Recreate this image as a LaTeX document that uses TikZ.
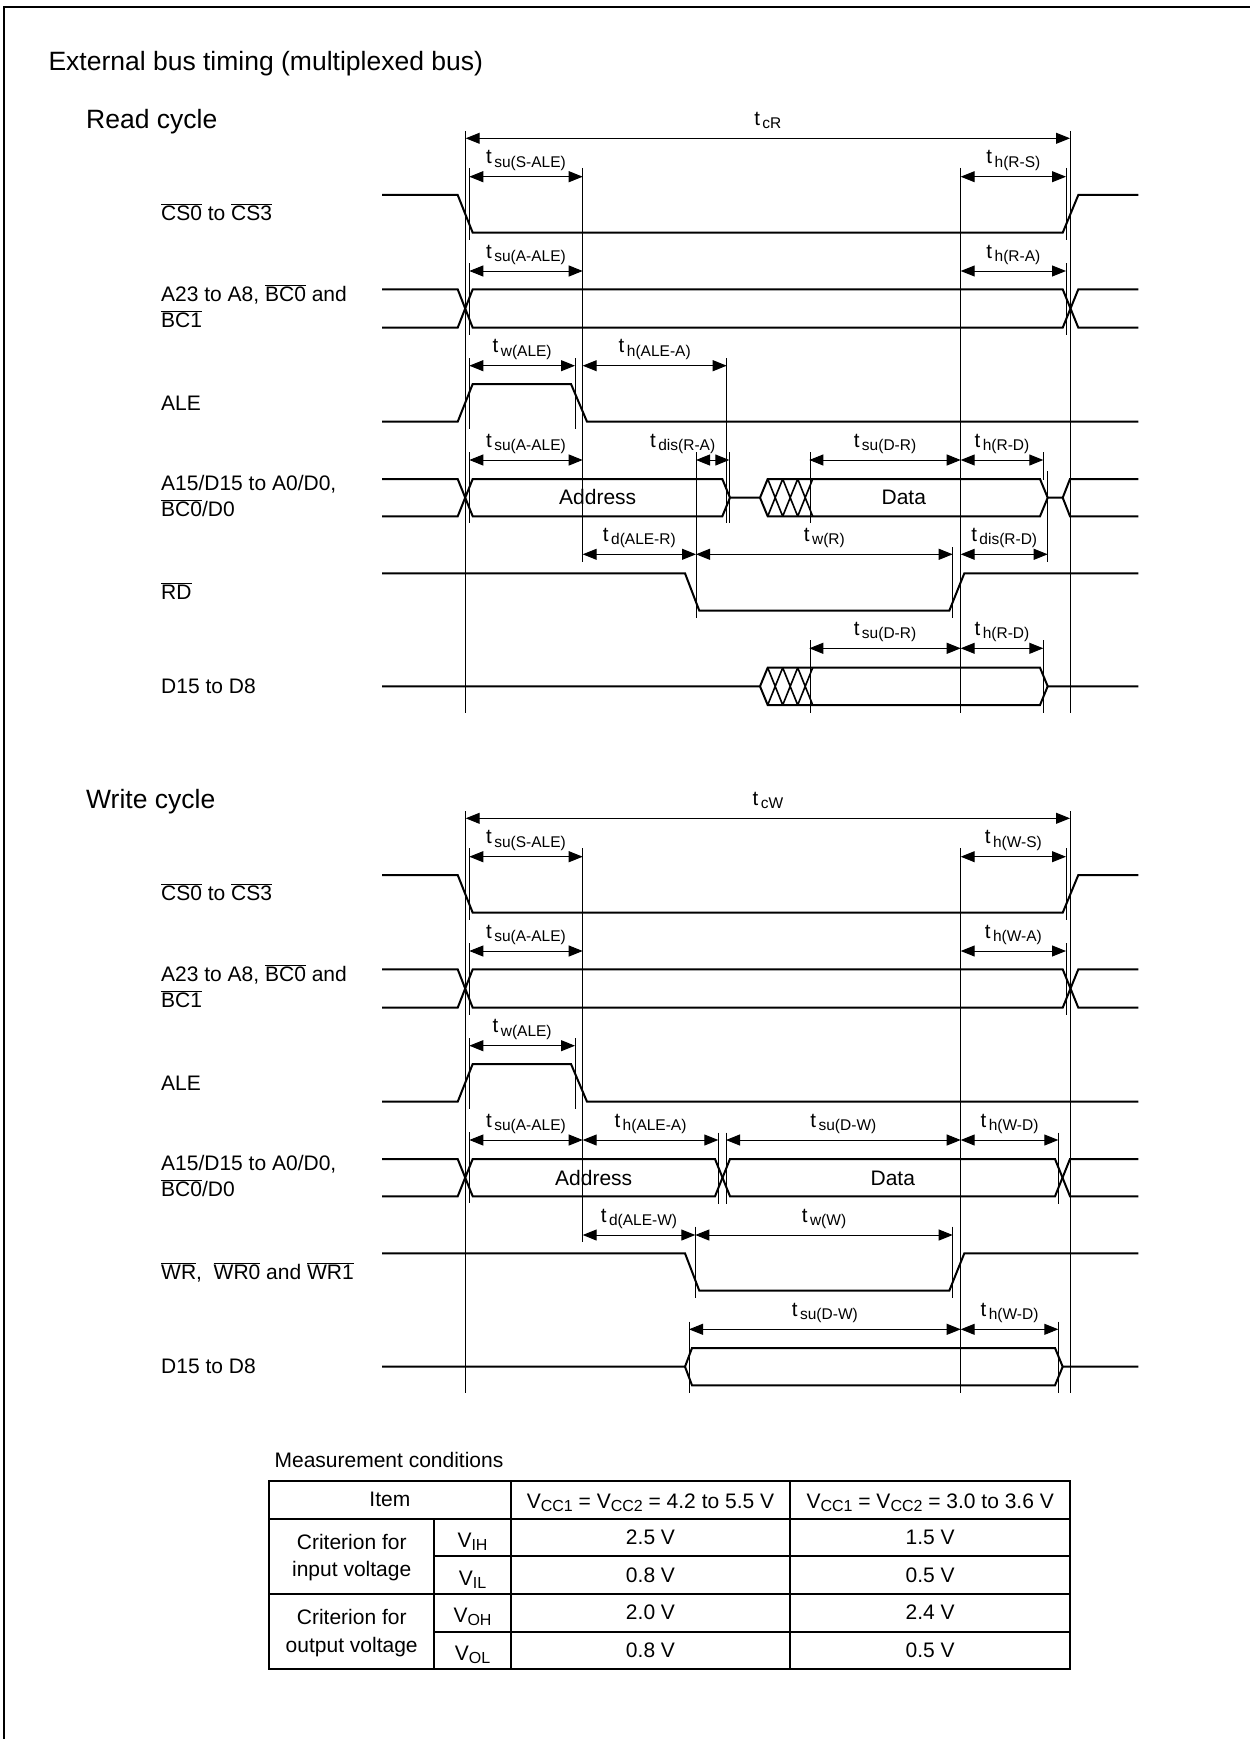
\documentclass[tikz,border=0pt]{standalone}
\usepackage{fontspec}
\setmainfont{Liberation Sans}
\usetikzlibrary{arrows.meta}

\newcommand{\ovl}[1]{$\overline{\mbox{#1}}$}
\newcommand{\tlab}[1]{t\hspace{2.5pt}\raisebox{-3.5pt}{\fontsize{15.5}{16}\selectfont #1}}
\newcommand{\vsub}[1]{V\raisebox{-3pt}{\fontsize{16}{16}\selectfont #1}}

\begin{document}
\begin{tikzpicture}[x=1pt,y=-1pt,line join=miter]
    \tikzstyle{sig}=[line width=2pt]
    \tikzstyle{hatch}=[line width=1.6pt]
    \tikzstyle{guide}=[line width=0.9pt]
    \tikzstyle{dim}=[line width=1pt,{Triangle[length=14pt,width=11pt]}-{Triangle[length=14pt,width=11pt]}]
    \tikzstyle{tl}=[font=\fontsize{20.5}{22}\selectfont,anchor=base,inner sep=0pt,yshift=13pt]
    \tikzstyle{lbl}=[font=\fontsize{21}{25.6}\selectfont,anchor=base west,inner sep=0pt]
    \tikzstyle{head}=[font=\fontsize{26.5}{30}\selectfont,anchor=base west,inner sep=0pt]
    \tikzstyle{busname}=[font=\fontsize{21}{24}\selectfont,anchor=base,inner sep=0pt]
    \tikzstyle{cell}=[font=\fontsize{21}{24}\selectfont,anchor=base,inner sep=0pt]
    \tikzstyle{tab}=[line width=2pt]

    \useasboundingbox (0,0) rectangle (1250,1739);
    \draw[line width=2.5pt] (4,1739) -- (4,7) -- (1250,7);

    % headings and signal names
    \node[head] (title) at (48.3,71)  {External bus timing (multiplexed bus)};
    \node[head] (rcyc)  at (86,128.3) {Read cycle};
    \node[head] (wcyc)  at (86,808.3) {Write cycle};

    \node[lbl] (rCS)   at (161,220.7) {\ovl{CS0} to \ovl{CS3}};
    \node[lbl] (rA23)  at (161,301.7) {A23 to A8, \ovl{BC0} and};
    \node[lbl] (rA23b) at (161,327.3) {\ovl{BC1}};
    \node[lbl] (rALE)  at (161,410)   {ALE};
    \node[lbl] (rA15)  at (161,490.7) {A15/D15 to A0/D0,};
    \node[lbl] (rA15b) at (161,516.7) {\ovl{BC0}/D0};
    \node[lbl] (rRD)   at (161,599)   {\ovl{RD}};
    \node[lbl] (rD15)  at (161,693.3) {D15 to D8};

    \node[lbl] (wCS)   at (161,900.7)  {\ovl{CS0} to \ovl{CS3}};
    \node[lbl] (wA23)  at (161,981.7)  {A23 to A8, \ovl{BC0} and};
    \node[lbl] (wA23b) at (161,1007.3) {\ovl{BC1}};
    \node[lbl] (wALE)  at (161,1090)   {ALE};
    \node[lbl] (wA15)  at (161,1170.7) {A15/D15 to A0/D0,};
    \node[lbl] (wA15b) at (161,1196.7) {\ovl{BC0}/D0};
    \node[lbl] (wWR)   at (161,1279)   {\ovl{WR},\ \ \ovl{WR0} and \ovl{WR1}};
    \node[lbl] (wD15)  at (161,1373.3) {D15 to D8};

    % read cycle waveforms
    \draw[sig] (382,195) -- (457.7,195) -- (472.7,232.7) -- (1062.7,232.7) -- (1078.3,195) -- (1138.3,195);
    \draw[sig] (382,289.3) -- (457.7,289.3) -- (472.7,327.7) -- (1062.7,327.7) -- (1078.3,289.3) -- (1138.3,289.3);
    \draw[sig] (382,327.7) -- (457.7,327.7) -- (472.7,289.3) -- (1062.7,289.3) -- (1078.3,327.7) -- (1138.3,327.7);
    \draw[sig] (382,421.7) -- (457.7,421.7) -- (472.7,384) -- (571,384) -- (587,421.7) -- (1138.3,421.7);
    \draw[sig] (382,479) -- (457.7,479) -- (472.7,516.3) -- (722.3,516.3) -- (730,497.7) -- (760,497.7)
        -- (767.7,479) -- (1040,479) -- (1047.7,497.7) -- (1062.7,497.7) -- (1070,479) -- (1138.3,479);
    \draw[sig] (382,516.3) -- (457.7,516.3) -- (472.7,479) -- (722.3,479) -- (730,497.7);
    \draw[sig] (760,497.7) -- (767.7,516.3) -- (1040,516.3) -- (1047.7,497.7);
    \draw[sig] (1062.7,497.7) -- (1070,516.3) -- (1138.3,516.3);
    \draw[hatch] (767.7,479) -- (782.7,516.3) (767.7,516.3) -- (782.7,479)
        (782.7,479) -- (797.7,516.3) (782.7,516.3) -- (797.7,479)
        (797.7,479) -- (812.7,516.3) (797.7,516.3) -- (812.7,479);
    \node[busname] (raddr) at (597.7,504) {Address};
    \node[busname] (rdata) at (903.8,504) {Data};
    \draw[sig] (382,573.3) -- (685,573.3) -- (699.3,610.7) -- (949.3,610.7) -- (964.3,573.3) -- (1138.3,573.3);
    \draw[sig] (382,686.3) -- (760,686.3) -- (767.7,667.7) -- (1040,667.7) -- (1047.7,686.3) -- (1138.3,686.3);
    \draw[sig] (760,686.3) -- (767.7,705) -- (1040,705) -- (1047.7,686.3);
    \draw[hatch] (767.7,667.7) -- (782.7,705) (767.7,705) -- (782.7,667.7)
        (782.7,667.7) -- (797.7,705) (782.7,705) -- (797.7,667.7)
        (797.7,667.7) -- (812.7,705) (797.7,705) -- (812.7,667.7);

    % read cycle guides
    \draw[guide] (465.7,131) -- (465.7,713);
    \draw[guide] (1070,131) -- (1070,713);
    \draw[guide] (582.7,168) -- (582.7,562);
    \draw[guide] (960.7,168) -- (960.7,713);
    \draw[guide] (469.3,168) -- (469.3,240) (469.3,263) -- (469.3,335)
        (469.3,358) -- (469.3,429) (469.3,452) -- (469.3,523);
    \draw[guide] (1066,168) -- (1066,240) (1066,263) -- (1066,335);
    \draw[guide] (575,358) -- (575,429);
    \draw[guide] (726.7,358) -- (726.7,523);
    \draw[guide] (729.3,452) -- (729.3,523);
    \draw[guide] (696,452) -- (696,618);
    \draw[guide] (810,452) -- (810,523) (810,640) -- (810,713);
    \draw[guide] (1043.3,452) -- (1043.3,480) (1047.7,471) -- (1047.7,562);
    \draw[guide] (952.7,547) -- (952.7,618);
    \draw[guide] (1043.3,640) -- (1043.3,713);

    % read cycle timings
    \draw[dim] (465.7,138.3) -- node[tl] (tcR)   {\tlab{cR}} (1070,138.3);
    \draw[dim] (469.3,176.7) -- node[tl] (rsuS)  {\tlab{su(S-ALE)}} (582.7,176.7);
    \draw[dim] (960.7,176.7) -- node[tl] (rhRS)  {\tlab{h(R-S)}} (1066,176.7);
    \draw[dim] (469.3,271)   -- node[tl] (rsuA)  {\tlab{su(A-ALE)}} (582.7,271);
    \draw[dim] (960.7,271)   -- node[tl] (rhRA)  {\tlab{h(R-A)}} (1066,271);
    \draw[dim] (469.3,365.7) -- node[tl] (rwALE) {\tlab{w(ALE)}} (575,365.7);
    \draw[dim] (582.7,365.7) -- node[tl] (rhALE) {\tlab{h(ALE-A)}} (726.7,365.7);
    \draw[dim] (469.3,460)   -- node[tl] (rsuA2) {\tlab{su(A-ALE)}} (582.7,460);
    \draw[dim] (696,460)     -- node[tl,xshift=-30pt] (rdisRA) {\tlab{dis(R-A)}} (729.3,460);
    \draw[dim] (809.3,460)   -- node[tl] (rsuDR) {\tlab{su(D-R)}} (960.7,460);
    \draw[dim] (960.7,460)   -- node[tl] (rhRD)  {\tlab{h(R-D)}} (1043.3,460);
    \draw[dim] (582.7,554.3) -- node[tl] (rdALE) {\tlab{d(ALE-R)}} (696,554.3);
    \draw[dim] (696,554.3)   -- node[tl] (rwR)   {\tlab{w(R)}} (952.7,554.3);
    \draw[dim] (960.7,554.3) -- node[tl] (rdisRD) {\tlab{dis(R-D)}} (1047.7,554.3);
    \draw[dim] (809.3,648.3) -- node[tl] (rsuDR2) {\tlab{su(D-R)}} (960.7,648.3);
    \draw[dim] (960.7,648.3) -- node[tl] (rhRD2) {\tlab{h(R-D)}} (1043.3,648.3);

    % write cycle waveforms
    \draw[sig] (382,875) -- (457.7,875) -- (472.7,912.7) -- (1062.7,912.7) -- (1078.3,875) -- (1138.3,875);
    \draw[sig] (382,969.3) -- (457.7,969.3) -- (472.7,1007.7) -- (1062.7,1007.7) -- (1078.3,969.3) -- (1138.3,969.3);
    \draw[sig] (382,1007.7) -- (457.7,1007.7) -- (472.7,969.3) -- (1062.7,969.3) -- (1078.3,1007.7) -- (1138.3,1007.7);
    \draw[sig] (382,1101.7) -- (457.7,1101.7) -- (472.7,1064) -- (571,1064) -- (587,1101.7) -- (1138.3,1101.7);
    \draw[sig] (382,1159) -- (457.7,1159) -- (472.7,1196.3) -- (715,1196.3) -- (730,1159) -- (1055,1159) -- (1070,1196.3) -- (1138.3,1196.3);
    \draw[sig] (382,1196.3) -- (457.7,1196.3) -- (472.7,1159) -- (715,1159) -- (730,1196.3) -- (1055,1196.3) -- (1070,1159) -- (1138.3,1159);
    \node[busname] (waddr) at (593.7,1185) {Address};
    \node[busname] (wdata) at (892.8,1185) {Data};
    \draw[sig] (382,1253.3) -- (685,1253.3) -- (699.3,1290.7) -- (949.3,1290.7) -- (964.3,1253.3) -- (1138.3,1253.3);
    \draw[sig] (382,1366.7) -- (685,1366.7) -- (692,1348) -- (1055,1348) -- (1062.7,1366.7) -- (1138.3,1366.7);
    \draw[sig] (685,1366.7) -- (692,1385.3) -- (1055,1385.3) -- (1062.7,1366.7);

    % write cycle guides
    \draw[guide] (465.7,811) -- (465.7,1393);
    \draw[guide] (1070,811) -- (1070,1393);
    \draw[guide] (582.7,848) -- (582.7,1242);
    \draw[guide] (960.7,848) -- (960.7,1393);
    \draw[guide] (469.3,848) -- (469.3,920) (469.3,943) -- (469.3,1015)
        (469.3,1038) -- (469.3,1109) (469.3,1132) -- (469.3,1203);
    \draw[guide] (1066,848) -- (1066,920) (1066,943) -- (1066,1015);
    \draw[guide] (575,1038) -- (575,1109);
    \draw[guide] (718.3,1132.7) -- (718.3,1204) (726,1132.7) -- (726,1204);
    \draw[guide] (695.3,1226.7) -- (695.3,1298);
    \draw[guide] (952.7,1226.7) -- (952.7,1298);
    \draw[guide] (1058.3,1132.7) -- (1058.3,1204) (1058.3,1321.7) -- (1058.3,1393.3);
    \draw[guide] (689,1321.7) -- (689,1393);

    % write cycle timings
    \draw[dim] (465.7,818.3) -- node[tl] (tcW)   {\tlab{cW}} (1070,818.3);
    \draw[dim] (469.3,856.7) -- node[tl] (wsuS)  {\tlab{su(S-ALE)}} (582.7,856.7);
    \draw[dim] (960.7,856.7) -- node[tl] (whWS)  {\tlab{h(W-S)}} (1066,856.7);
    \draw[dim] (469.3,951)   -- node[tl] (wsuA)  {\tlab{su(A-ALE)}} (582.7,951);
    \draw[dim] (960.7,951)   -- node[tl] (whWA)  {\tlab{h(W-A)}} (1066,951);
    \draw[dim] (469.3,1045.7) -- node[tl] (wwALE) {\tlab{w(ALE)}} (575,1045.7);
    \draw[dim] (469.3,1140)  -- node[tl] (wsuA2) {\tlab{su(A-ALE)}} (582.7,1140);
    \draw[dim] (582.7,1140)  -- node[tl] (whALE) {\tlab{h(ALE-A)}} (718.3,1140);
    \draw[dim] (726,1140)    -- node[tl] (wsuDW) {\tlab{su(D-W)}} (960.7,1140);
    \draw[dim] (960.7,1140)  -- node[tl] (whWD)  {\tlab{h(W-D)}} (1058.3,1140);
    \draw[dim] (582.7,1235)  -- node[tl] (wdALE) {\tlab{d(ALE-W)}} (695.3,1235);
    \draw[dim] (695.3,1235)  -- node[tl] (wwW)   {\tlab{w(W)}} (952.7,1235);
    \draw[dim] (689,1329.3)  -- node[tl] (wsuDW2) {\tlab{su(D-W)}} (960.7,1329.3);
    \draw[dim] (960.7,1329.3) -- node[tl] (whWD2) {\tlab{h(W-D)}} (1058.3,1329.3);

    % measurement conditions table
    \node[cell,anchor=base west] (mcond) at (274.4,1467.3) {Measurement conditions};
    \draw[tab] (269,1480.7) rectangle (1070,1669.3);
    \draw[tab] (269,1518.7) -- (1070,1518.7);
    \draw[tab] (434.3,1556) -- (1070,1556);
    \draw[tab] (269,1594) -- (1070,1594);
    \draw[tab] (434.3,1631.7) -- (1070,1631.7);
    \draw[tab] (434.3,1518.7) -- (434.3,1669.3);
    \draw[tab] (510.7,1480.7) -- (510.7,1669.3);
    \draw[tab] (790.4,1480.7) -- (790.4,1669.3);

    \node[cell] (item) at (389.9,1506.7) {Item};
    \node[cell] (hdA)  at (650.5,1508) {\vsub{CC1} = \vsub{CC2} = 4.2 to 5.5 V};
    \node[cell] (hdB)  at (930.2,1508) {\vsub{CC1} = \vsub{CC2} = 3.0 to 3.6 V};
    \node[cell] (cin)   at (351.7,1549.3) {Criterion for};
    \node[cell] (cinb)  at (351.7,1576.7) {input voltage};
    \node[cell] (cout)  at (351.7,1624.8) {Criterion for};
    \node[cell] (coutb) at (351.7,1652.2) {output voltage};
    \node[cell] (vih) at (472.5,1547.3) {\vsub{IH}};
    \node[cell] (vil) at (472.5,1585)   {\vsub{IL}};
    \node[cell] (voh) at (472.5,1622.8) {\vsub{OH}};
    \node[cell] (vol) at (472.5,1660.5) {\vsub{OL}};
    \node[cell] (a1) at (650.5,1544.3) {2.5 V};
    \node[cell] (a2) at (650.5,1582)   {0.8 V};
    \node[cell] (a3) at (650.5,1619.8) {2.0 V};
    \node[cell] (a4) at (650.5,1657.5) {0.8 V};
    \node[cell] (b1) at (930.2,1544.3) {1.5 V};
    \node[cell] (b2) at (930.2,1582)   {0.5 V};
    \node[cell] (b3) at (930.2,1619.8) {2.4 V};
    \node[cell] (b4) at (930.2,1657.5) {0.5 V};
\end{tikzpicture}
\end{document}
